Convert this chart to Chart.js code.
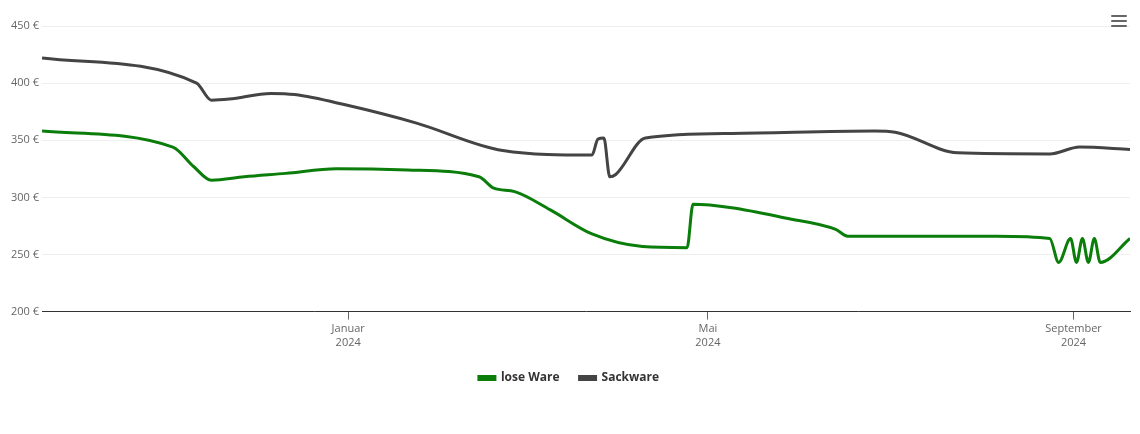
<!DOCTYPE html>
<html><head><meta charset="utf-8">
<script src="https://cdn.jsdelivr.net/npm/chart.js@4"></script>
<style>
body{margin:0;background:#fff;font-family:"Open Sans",sans-serif}
#wrap{position:relative;width:1140px;height:434px}
#menu{position:absolute;right:13px;top:15px;width:16px}
#menu div{height:2px;background:#666;margin-bottom:3px;border-radius:1px}
</style></head><body>
<div id="wrap"><canvas id="c"></canvas>
<div id="menu"><div></div><div></div><div></div></div></div>
<script>
// days since 1 Jan 2024
var loseDays = [-103,-59,-52,-46,-35,-21,-4,20,44,49,56,68,82,99,114,116,129,147,164,168,218,236,239,243,245,247,249,251,253,263];
var loseVals = [358,344,327,315,318,321,325,324,318,308,305,289,268,257,256,294,291,282,272,266,266,264,243,264,243,264,243,264,243,264];
var sackDays = [-103,-51,-46,-40,-26,-18,-1,23,52,82,84,86,88,90,100,129,177,184,205,236,246,263];
var sackVals = [422,400,385,386,391,390,381,365,341,337,351,352,318,320,352,356,358,357,339,338,344,342];
var tickDays = [0,121,244];
var tickNames = [["Januar","2024"],["Mai","2024"],["September","2024"]];

function pts(d,v){ return d.map(function(x,i){ return {x:x,y:v[i]}; }); }

Chart.defaults.font.family = '"Open Sans", sans-serif';
new Chart(document.getElementById('c'), {
  type:'line',
  data:{datasets:[
    {label:'lose Ware',data:pts(loseDays,loseVals),borderColor:'#0a7d0a',backgroundColor:'#0a7d0a',borderWidth:3,pointRadius:0,cubicInterpolationMode:'monotone'},
    {label:'Sackware',data:pts(sackDays,sackVals),borderColor:'#444',backgroundColor:'#444',borderWidth:3,pointRadius:0,cubicInterpolationMode:'monotone'}
  ]},
  options:{
    responsive:true,maintainAspectRatio:false,animation:false,
    layout:{padding:{left:8,right:10,top:26,bottom:40}},
    plugins:{
      legend:{position:'bottom',labels:{boxWidth:16,boxHeight:3,padding:20,color:'#333',font:{size:12,weight:'bold'}}},
      tooltip:{enabled:false}
    },
    scales:{
      x:{type:'linear',min:-103,max:263,
        afterBuildTicks:function(a){ a.ticks = tickDays.map(function(d){return {value:d};}); },
        ticks:{color:'#666',font:{size:11},autoSkip:false,maxRotation:0,
          callback:function(v){ var i=tickDays.indexOf(v); return i<0?'':tickNames[i]; }},
        grid:{drawOnChartArea:false,tickLength:8,color:'#666'},
        border:{color:'#333'}
      },
      y:{min:200,max:450,
        ticks:{stepSize:50,color:'#666',font:{size:11},callback:function(v){return v+' €';}},
        grid:{color:'#eee',drawTicks:false},
        border:{display:false}
      }
    }
  }
});
</script></body></html>
